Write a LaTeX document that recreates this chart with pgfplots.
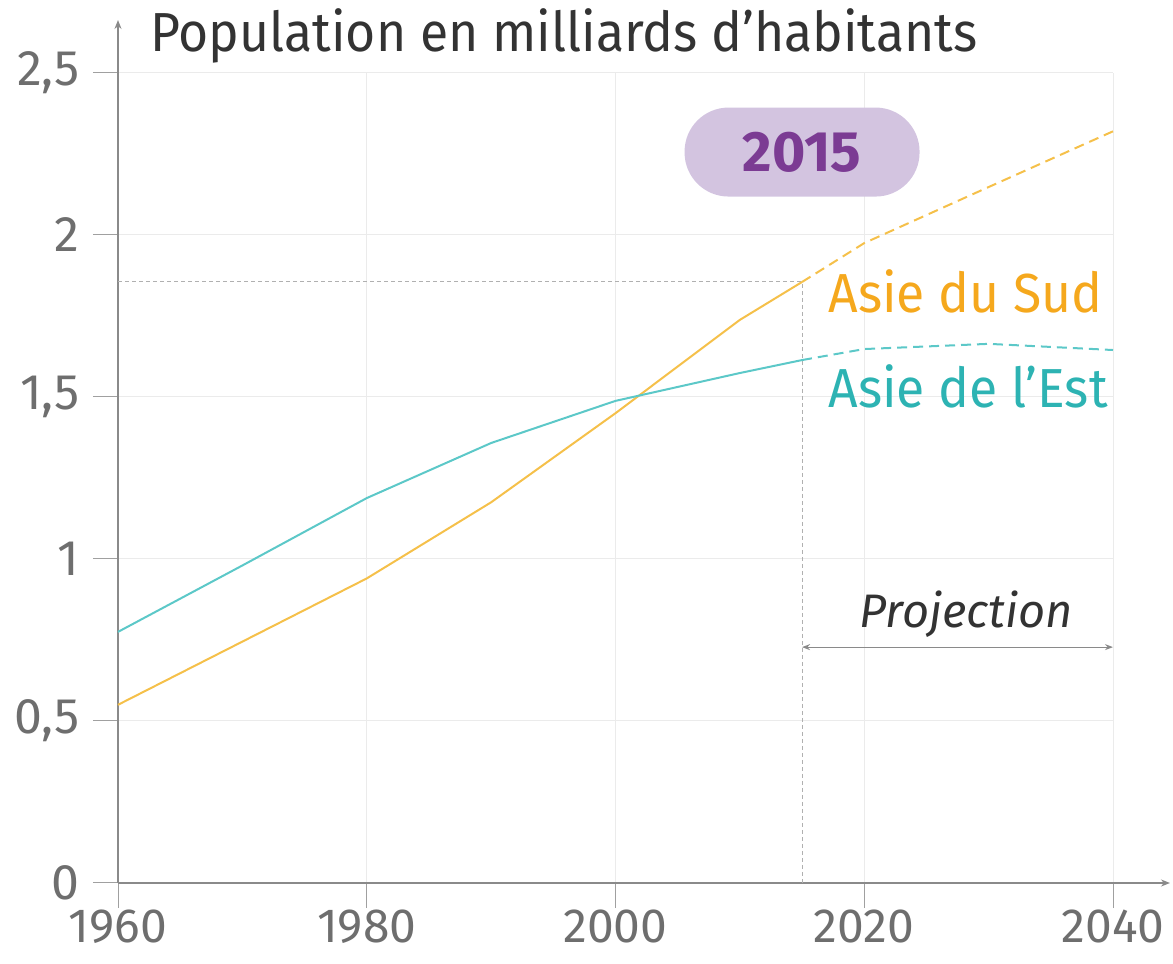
\documentclass[border=0pt]{standalone}
\usepackage{fontspec}
\setmainfont{Fira Sans}
\newfontfamily\narrow[FakeStretch=0.94]{Fira Sans}
\usepackage{pgfplots}
\pgfplotsset{compat=1.18}
\usetikzlibrary{arrows.meta}
\definecolor{orangeline}{HTML}{F5C04A}
\definecolor{orangetext}{HTML}{F5A81D}
\definecolor{tealline}{HTML}{5CC8C8}
\definecolor{tealtext}{HTML}{2DB3B3}
\definecolor{pillfill}{HTML}{D3C4E0}
\definecolor{pilltext}{HTML}{7B3B93}
\definecolor{gridgray}{HTML}{EBEBEB}
\definecolor{axisgray}{HTML}{8A8A8A}
\definecolor{tickgray}{HTML}{A0A0A0}
\definecolor{labelgray}{HTML}{6E6E6E}
\definecolor{titlegray}{HTML}{333333}
\definecolor{refgray}{HTML}{B0B0B0}
\begin{document}
\begin{tikzpicture}
\path (0,0) rectangle (1173pt,964pt);
\node[anchor=base west, text=titlegray, font=\narrow\fontsize{55}{60}\selectfont, inner sep=0pt] at (150pt,912pt) {Population en milliards d’habitants};
\begin{axis}[
  at={(118pt,81pt)}, anchor=south west, scale only axis,
  width=995pt, height=810pt,
  xmin=1960, xmax=2040, ymin=0, ymax=2.5,
  axis lines=left,
  axis line style={draw=axisgray, line width=1.5pt},
  x axis line style={-{Stealth[length=9pt,width=7pt]}, shorten >=-57pt},
  y axis line style={-{Stealth[length=9pt,width=7pt]}, shorten >=-53pt},
  xtick={1960,1980,2000,2020,2040},
  ytick={0,0.5,1,1.5,2,2.5},
  grid=major,
  major grid style={draw=gridgray, line width=1pt},
  tick style={draw=tickgray, line width=1pt},
  major tick length=25pt, tick align=outside,
  /pgf/number format/assume math mode=true,
  /pgf/number format/use comma,
  /pgf/number format/1000 sep={},
  xticklabel style={font=\fontsize{48}{48}\selectfont, text=labelgray, yshift=-2pt, inner sep=0pt},
  yticklabel style={font=\fontsize{50}{50}\selectfont, text=labelgray, xshift=-10pt},
  clip=false,
]
\draw[refgray, dashed, line width=1pt, dash pattern=on 4pt off 3pt] (axis cs:1960,1.855) -- (axis cs:2015,1.855) -- (axis cs:2015,0);
\addplot[orangeline, line width=2pt] coordinates {(1960,0.55) (1970,0.745) (1980,0.94) (1990,1.175) (2000,1.45) (2010,1.738) (2015,1.855)};
\addplot[orangeline, line width=2pt, dash pattern=on 10pt off 6pt] coordinates {(2015,1.855) (2020,1.975) (2030,2.148) (2040,2.32)};
\addplot[tealline, line width=2pt] coordinates {(1960,0.775) (1970,0.98) (1980,1.188) (1990,1.358) (2000,1.488) (2010,1.574) (2015,1.614)};
\addplot[tealline, line width=2pt, dash pattern=on 10pt off 6pt] coordinates {(2015,1.614) (2020,1.648) (2030,1.664) (2040,1.645)};
\node[fill=pillfill, rounded corners=44pt, minimum width=235pt, minimum height=89pt, text=pilltext, font=\bfseries\fontsize{57}{57}\selectfont] at (axis cs:2015,2.256) {2015};
\node[anchor=base west, inner sep=0pt, text=orangetext, font=\narrow\fontsize{55}{55}\selectfont] at (axis cs:2017.1,1.762) {Asie du Sud};
\node[anchor=base west, inner sep=0pt, text=tealtext, font=\narrow\fontsize{55}{55}\selectfont] at (axis cs:2017.1,1.469) {Asie de l’Est};
\node[anchor=base, inner sep=0pt, text=titlegray, font=\itshape\fontsize{47}{47}\selectfont] at (axis cs:2028.2,0.79) {Projection};
\draw[axisgray, line width=1.2pt, {Stealth[length=8pt,width=6pt]}-{Stealth[length=8pt,width=6pt]}] (axis cs:2015,0.728) -- (axis cs:2040,0.728);
\end{axis}
\end{tikzpicture}
\end{document}
